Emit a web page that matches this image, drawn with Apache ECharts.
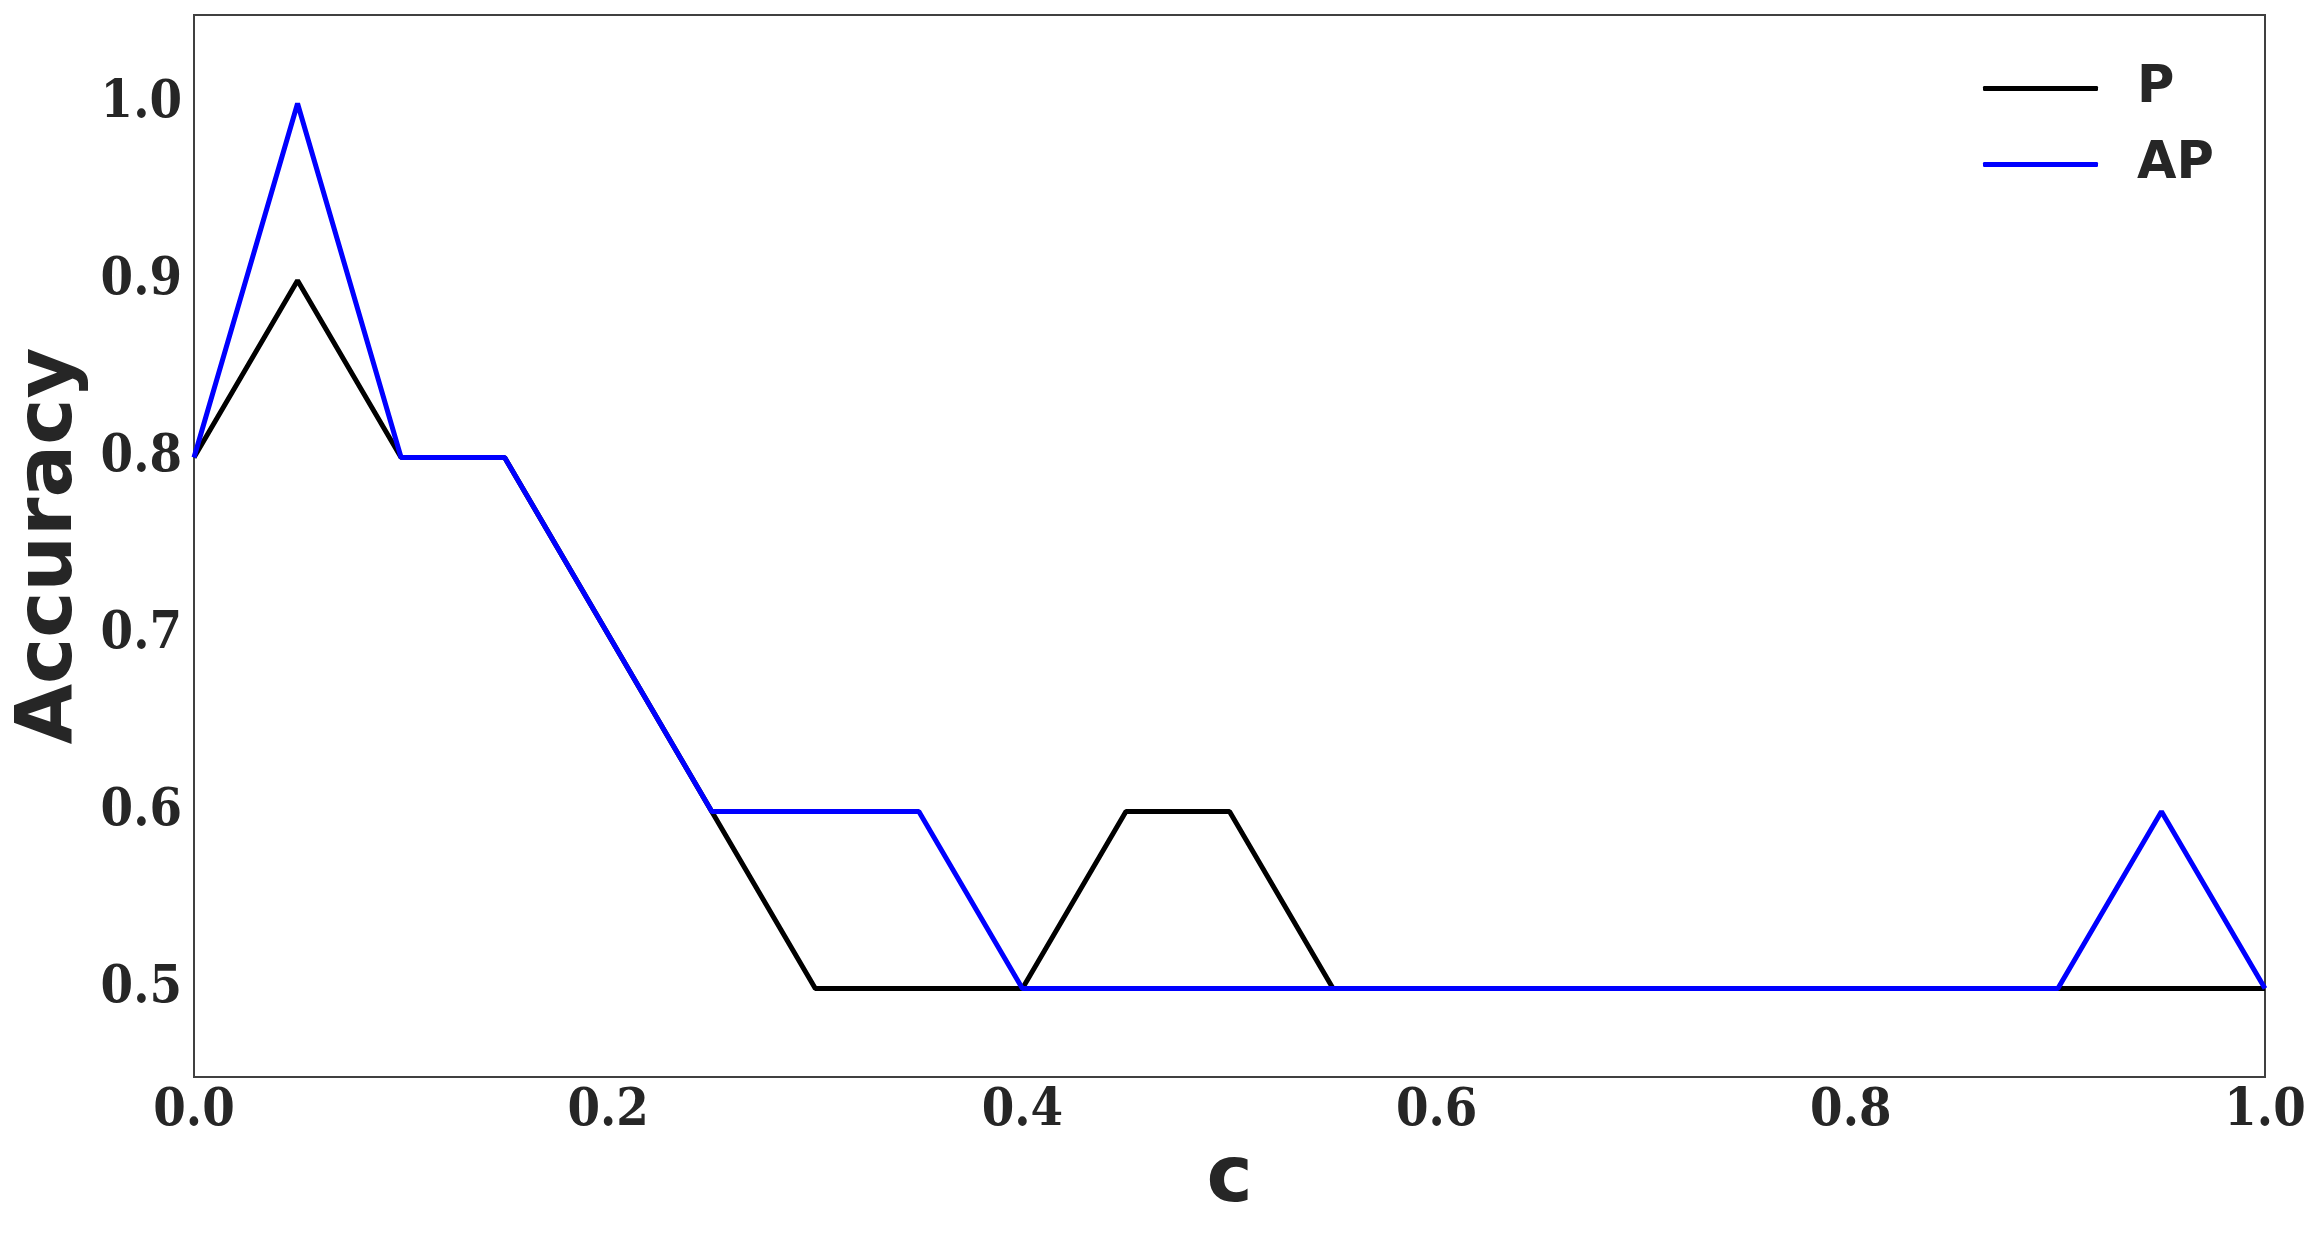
<!DOCTYPE html>
<html lang="en">
<head>
    <meta charset="UTF-8">
    <title>Accuracy vs c</title>
    <script src="https://cdn.jsdelivr.net/npm/echarts@6/dist/echarts.min.js"></script>
    <style>
        html, body { margin: 0; padding: 0; background: #fff; }
        #main { width: 2318px; height: 1242px; }
    </style>
</head>
<body>
<div id="main"></div>
<script type="text/javascript">
    // 数据
    var cValues = [0.0, 0.05, 0.1, 0.15, 0.2, 0.25, 0.3, 0.35, 0.4, 0.45, 0.5,
                   0.55, 0.6, 0.65, 0.7, 0.75, 0.8, 0.85, 0.9, 0.95, 1.0];
    var pValues = [0.8, 0.9, 0.8, 0.8, 0.7, 0.6, 0.5, 0.5, 0.5, 0.6, 0.6,
                   0.5, 0.5, 0.5, 0.5, 0.5, 0.5, 0.5, 0.5, 0.5, 0.5];
    var apValues = [0.8, 1.0, 0.8, 0.8, 0.7, 0.6, 0.6, 0.6, 0.5, 0.5, 0.5,
                    0.5, 0.5, 0.5, 0.5, 0.5, 0.5, 0.5, 0.5, 0.6, 0.5];
    var yTickLabels = ['0.5', '0.6', '0.7', '0.8', '0.9', '1.0'];

    function pairs(xs, ys) {
        return xs.map(function (x, i) { return [x, ys[i]]; });
    }

    // 刻度字体 (窄体衬线)
    var tickFont = {
        fontFamily: '"DejaVu Serif", serif',
        fontWeight: 'bold condensed',
        fontSize: 52,
        color: '#262626'
    };
    var titleFont = {
        fontFamily: '"DejaVu Sans", sans-serif',
        fontWeight: 'bold',
        fontSize: 78,
        color: '#262626'
    };

    var myChart = echarts.init(document.getElementById('main'));
    var option = {
        backgroundColor: '#fff',
        animation: false,
        grid: {
            left: 194, right: 53, top: 15, bottom: 165,
            outerBoundsMode: 'none',
            show: true, borderColor: '#404040', borderWidth: 2
        },
        legend: {
            orient: 'vertical',
            left: 1978,
            top: 58,
            icon: 'roundRect',
            itemWidth: 115,
            itemHeight: 5,
            itemGap: 25,
            textStyle: {
                fontFamily: '"DejaVu Sans", sans-serif',
                fontWeight: 'bold',
                fontSize: 51,
                color: '#262626',
                padding: [0, 0, 0, 34]
            },
            data: ['P', 'AP']
        },
        xAxis: {
            type: 'value',
            min: 0,
            max: 1,
            interval: 0.2,
            name: 'c',
            nameLocation: 'middle',
            nameGap: 62,
            nameTextStyle: titleFont,
            axisLine: { show: true, onZero: false, lineStyle: { color: '#404040', width: 2 } },
            axisTick: { show: false },
            splitLine: { show: false },
            axisLabel: Object.assign({ margin: 8, formatter: function (v) { return v.toFixed(1); } }, tickFont)
        },
        yAxis: {
            type: 'value',
            min: 0.45,
            max: 1.05,
            interval: 0.05,
            name: 'Accuracy',
            nameLocation: 'middle',
            nameRotate: 90,
            nameGap: 90,
            nameTextStyle: titleFont,
            axisLine: { show: true, lineStyle: { color: '#404040', width: 2 } },
            axisTick: { show: false },
            splitLine: { show: false },
            axisLabel: Object.assign({
                margin: 12,
                formatter: function (v) {
                    var s = (Math.round(v * 100) / 100).toFixed(2);
                    var label = (Math.round(v * 10) / 10).toFixed(1);
                    if (s.charAt(3) !== '0') return '';
                    return yTickLabels.indexOf(label) >= 0 ? label : '';
                }
            }, tickFont)
        },
        series: [
            {
                name: 'P',
                type: 'line',
                data: pairs(cValues, pValues),
                showSymbol: false,
                lineStyle: { color: '#000000', width: 5 },
                itemStyle: { color: '#000000' }
            },
            {
                name: 'AP',
                type: 'line',
                data: pairs(cValues, apValues),
                showSymbol: false,
                lineStyle: { color: '#0000ff', width: 5 },
                itemStyle: { color: '#0000ff' }
            }
        ]
    };
    myChart.setOption(option);
</script>
</body>
</html>
